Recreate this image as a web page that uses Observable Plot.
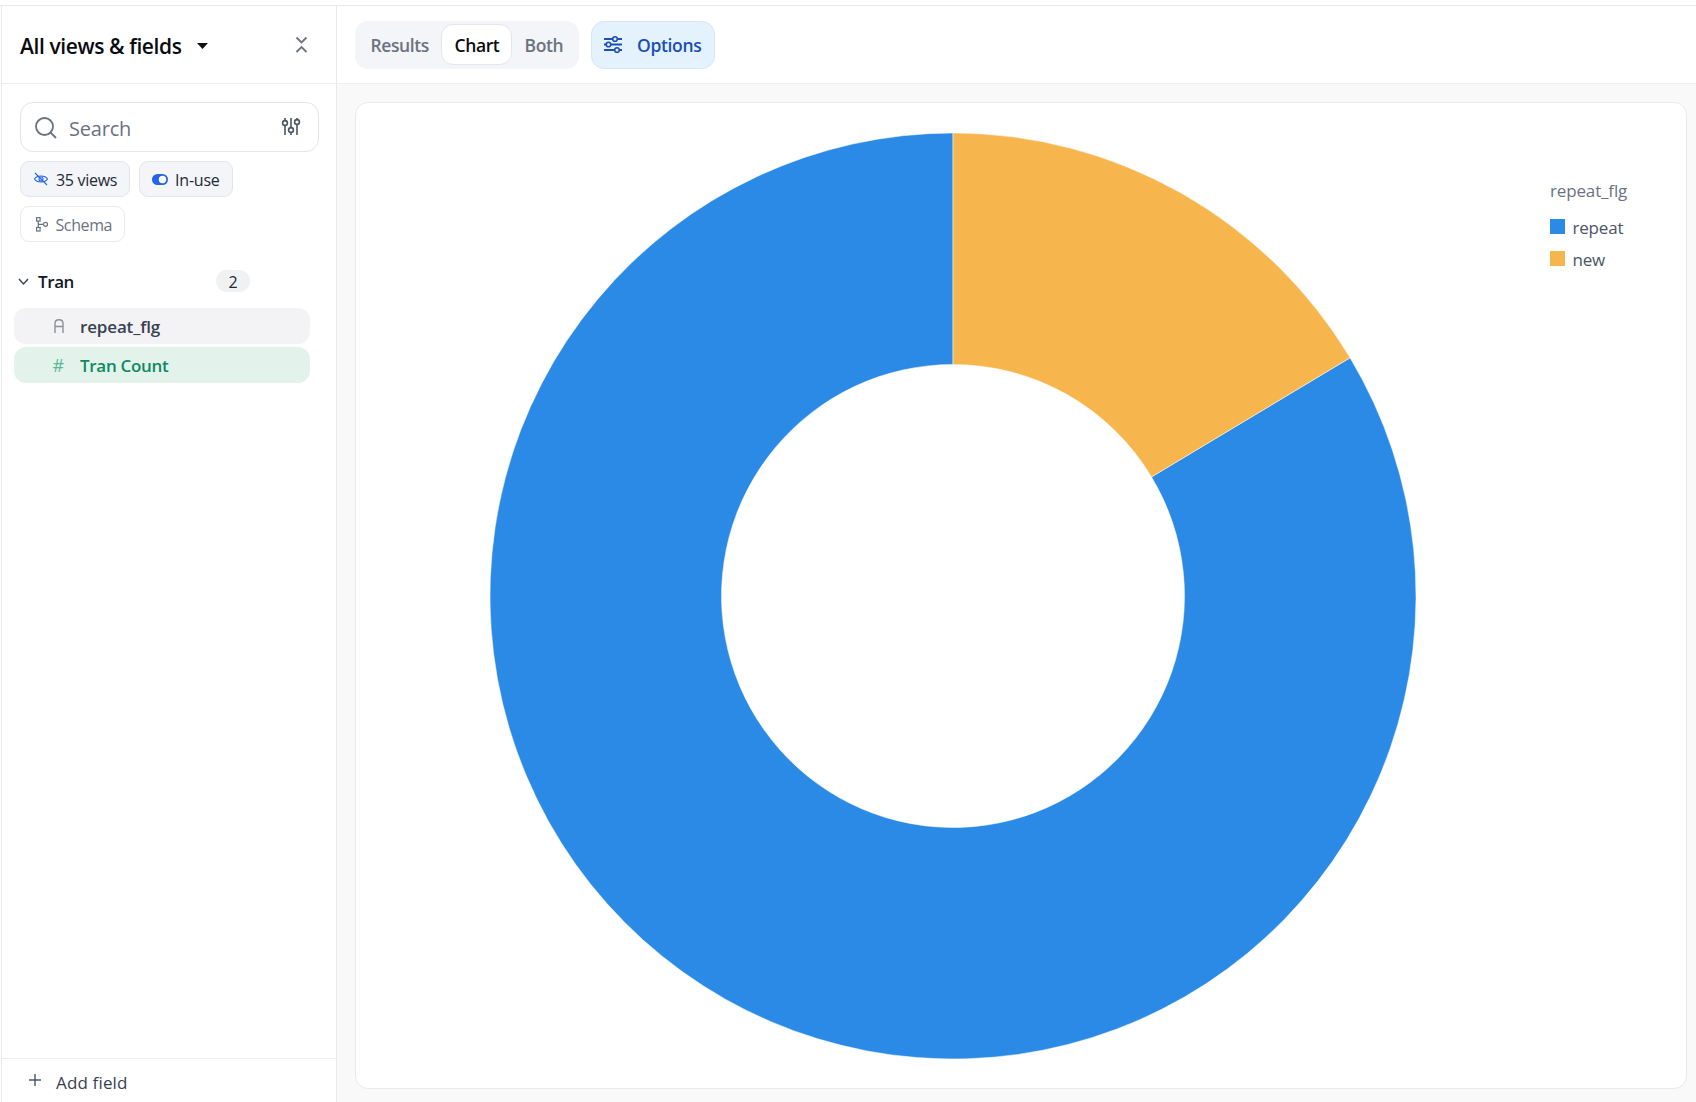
<!DOCTYPE html>
<html>
<head>
<meta charset="utf-8">
<script src="https://cdn.jsdelivr.net/npm/d3@7"></script>
<script src="https://cdn.jsdelivr.net/npm/@observablehq/plot@0.6"></script>
<style>
html,body{margin:0;padding:0;background:#fff;width:1696px;height:1102px;overflow:hidden;font-family:"Open Sans","Noto Sans",sans-serif;color:#111827}
.a{position:absolute;box-sizing:border-box;white-space:nowrap}
.t{position:absolute;white-space:nowrap;line-height:1;transform:translateY(-50%)}
svg.i{position:absolute;overflow:visible;fill:none}
</style>
</head>
<body>
<div id="app"></div>
<script>
const flags = ["repeat", "new"];
const tranCounts = [83.6, 16.4];
const flagColors = ["#2A8AE6", "#F7B54D"];
const sliceOrder = ["new", "repeat"];
const legendTitle = "repeat_flg";

const rows = flags.map((flag, i) => ({flag, count: tranCounts[i]}));
const app = document.getElementById("app");

function box(x0, y0, x1, y1, css) {
  const d = document.createElement("div");
  d.className = "a";
  d.style.cssText = `left:${x0}px;top:${y0}px;width:${x1 - x0}px;height:${y1 - y0}px;${css || ""}`;
  app.appendChild(d);
}
function text(s, x, y, size, color, weight, spacing) {
  const d = document.createElement("div");
  d.className = "t";
  d.textContent = s;
  d.style.cssText = `left:${x}px;top:${y}px;font-size:${size}px;color:${color};font-weight:${weight || 400};letter-spacing:${spacing || 0}px`;
  app.appendChild(d);
}
function icon(x, y, w, h, inner) {
  const s = document.createElementNS("http://www.w3.org/2000/svg", "svg");
  s.setAttribute("class", "i");
  s.setAttribute("width", w); s.setAttribute("height", h);
  s.style.left = x + "px"; s.style.top = y + "px";
  s.innerHTML = inner;
  app.appendChild(s);
}

// page chrome
box(0, 5, 1696, 6, "background:#e5e7eb");
box(1, 5, 2, 1102, "background:#e8e9ee");
box(336, 5, 337, 1102, "background:#e8e9ee");
box(337, 6, 1696, 83, "background:#fff");
box(337, 83, 1696, 1102, "background:#f9f9fa");
box(2, 83, 336, 84, "background:#eceef1");
box(337, 83, 1696, 84, "background:#eceef1");
box(355, 102, 1687, 1089, "background:#fff;border:1px solid #e8e9ee;border-radius:13px");

// sidebar header
text("All views & fields", 20, 46, 21, "#0b0b0f", 600, -0.4);
icon(197, 43, 11, 6, '<path d="M0 0H11L5.5 6Z" fill="#111"/>');
icon(295, 36, 13, 17, '<path d="M1.5 1.5L6.5 6.5L11.5 1.5M1.5 16L6.5 11L11.5 16" stroke="#6b7280" stroke-width="1.8"/>');

// search
box(20, 102, 319, 152, "border:1px solid #e3e5ea;border-radius:13px;background:#fff");
icon(35, 117, 22, 22, '<circle cx="9.5" cy="9.5" r="8.5" stroke="#6b7280" stroke-width="1.8"/><path d="M15.5 15.5L21 21" stroke="#6b7280" stroke-width="1.8"/>');
text("Search", 69, 129, 20, "#6b7280", 400, -0.2);
icon(282, 118, 18, 18, '<path d="M3 0V17M9 0V17M15 0V17" stroke="#4b5563" stroke-width="1.6"/><g fill="#fff" stroke="#4b5563" stroke-width="1.6"><circle cx="3" cy="5" r="2.4"/><circle cx="9" cy="12" r="2.4"/><circle cx="15" cy="4" r="2.4"/></g>');

// chips
box(20, 161, 130, 197, "background:#f4f5f8;border:1px solid #e3e5ea;border-radius:9px");
icon(34, 172, 14, 14, '<path d="M0.5 7C3 3 11 3 13.5 7C11 11 3 11 0.5 7Z" stroke="#2563eb" stroke-width="1.1"/><circle cx="7" cy="7" r="2" stroke="#2563eb" stroke-width="1.1"/><path d="M1 1L13 13" stroke="#2563eb" stroke-width="1.1"/>');
text("35 views", 56, 180, 16, "#1f2937", 400, -0.3);
box(139, 161, 233, 197, "background:#f4f5f8;border:1px solid #e3e5ea;border-radius:9px");
icon(152, 174, 16, 11, '<rect width="16" height="11" rx="5.5" fill="#2563eb"/><circle cx="10.5" cy="5.5" r="3.7" fill="#fff"/>');
text("In-use", 175, 180, 16, "#1f2937", 400, -0.2);
box(20, 206, 125, 242, "background:#fff;border:1px solid #e8e9ee;border-radius:9px");
icon(36, 217, 12, 15, '<g stroke="#6b7280" stroke-width="1.2"><rect x="0.6" y="0.6" width="3.5" height="3.5"/><rect x="0.6" y="10.5" width="3.5" height="3.5"/><circle cx="9.5" cy="7.3" r="2"/><path d="M2.3 4V10.5M2.3 7.3H7.5"/></g>');
text("Schema", 55.5, 225, 16, "#6b7280", 400, -0.4);

// field tree
icon(18, 278, 11, 7, '<path d="M1 1L5.5 6L10 1" stroke="#374151" stroke-width="1.4"/>');
text("Tran", 38, 281, 17, "#111827", 600, -0.4);
box(216, 270, 250, 292, "background:#f0f1f3;border-radius:11px");
text("2", 228.5, 282, 16, "#1f2937", 400, 0);

box(14, 308, 310, 344, "background:#f3f3f6;border-radius:12px");
icon(54, 319, 10, 14, '<path d="M1 14V4.5C1 -0.5 9 -0.5 9 4.5V14M1 7.5H9" stroke="#8b8f98" stroke-width="1.4"/>');
text("repeat_flg", 80, 326, 17, "#374151", 600, -0.15);

box(14, 347, 310, 383, "background:#e3f3ec;border-radius:12px");
text("#", 52.5, 365, 18, "#5fb894", 400, 0);
text("Tran Count", 80, 365, 17, "#0d8a5f", 600, -0.3);

// footer
box(2, 1058, 336, 1059, "background:#eceef1");
icon(29, 1074, 12, 12, '<path d="M6 0V12M0 6H12" stroke="#4b5563" stroke-width="1.4"/>');
text("Add field", 56, 1082, 17, "#374151", 400, 0.15);

// toolbar
box(355, 21, 579, 69, "background:#f4f5f8;border-radius:13px");
text("Results", 370.5, 46, 17.5, "#6b7280", 600, -0.4);
box(441, 24, 512, 65, "background:#fff;border:1px solid #e3e5ea;border-radius:12px");
text("Chart", 454.5, 46, 17.5, "#0b0b0f", 600, -0.4);
text("Both", 524.5, 46, 17.5, "#6b7280", 600, -0.4);
box(591, 21, 715, 69, "background:#e3f2fd;border:1px solid #d8e5f2;border-radius:13px");
icon(604, 36, 18, 17, '<g stroke="#1d4fb8" stroke-width="1.8"><path d="M0 3H18M0 8.5H18M0 14H18"/></g><g fill="#e3f2fd" stroke="#1d4fb8" stroke-width="1.6"><circle cx="11" cy="3" r="2.3"/><circle cx="4.5" cy="8.5" r="2.3"/><circle cx="13" cy="14" r="2.3"/></g>');
text("Options", 637, 46, 17.5, "#1a4fb5", 600, -0.35);

// donut: a Plot function mark drawn through the x, y and colour scales
const innerRatio = 0.5;
const chart = Plot.plot({
  width: 1330,
  height: 986,
  marginLeft: 134,
  marginRight: 270,
  marginTop: 31,
  marginBottom: 29,
  style: {background: "transparent"},
  x: {domain: [-1, 1], axis: null},
  y: {domain: [-1, 1], axis: null},
  color: {type: "ordinal", domain: flags, range: flagColors},
  marks: [
    (index, scales) => {
      const cx = scales.x(0), cy = scales.y(0);
      const outer = scales.x(1) - cx;
      const arcs = d3.pie()
        .sort((a, b) => sliceOrder.indexOf(a.flag) - sliceOrder.indexOf(b.flag))
        .value(d => d.count)(rows);
      const arc = d3.arc().innerRadius(outer * innerRatio).outerRadius(outer);
      const g = d3.create("svg:g").attr("transform", `translate(${cx},${cy})`);
      g.selectAll("path").data(arcs).join("path")
        .attr("d", arc)
        .attr("fill", d => scales.color(d.data.flag))
        .attr("stroke", "#fff")
        .attr("stroke-width", 0.5)
        .append("title").text(d => `${d.data.flag}: ${d.data.count}`);
      return g.node();
    }
  ]
});
chart.style.position = "absolute";
chart.style.left = "356px";
chart.style.top = "102px";
app.appendChild(chart);

// legend
text(legendTitle, 1550, 190, 17, "#6b7280", 400, -0.15);
flags.forEach((f, i) => {
  box(1550, 219 + 32 * i, 1565, 234 + 32 * i, `background:${flagColors[i]}`);
  text(f, 1572.5, 227 + 32 * i, 17, "#4b5563", 400, -0.2);
});
</script>
</body>
</html>
